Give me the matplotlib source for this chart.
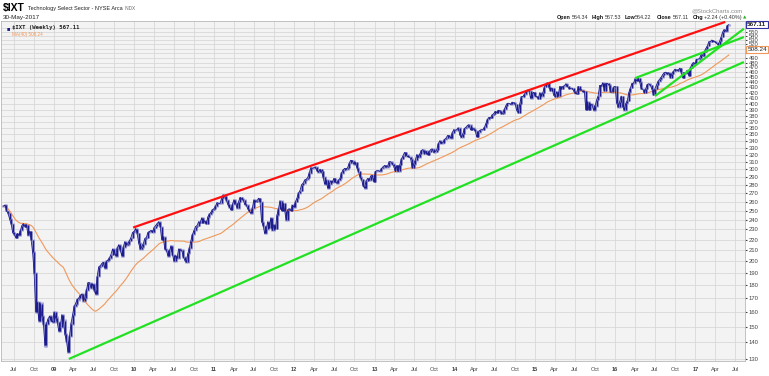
import numpy as np
import pandas as pd
import matplotlib
matplotlib.use('Agg')
import matplotlib.pyplot as plt
import matplotlib.transforms as mtransforms
from matplotlib.ticker import FixedLocator, NullLocator, FuncFormatter

plt.rcParams['font.family'] = ['Liberation Sans', 'DejaVu Sans']

# weekly closes of $IXT, one list per calendar year
c2008 = [255, 256, 250, 247, 241, 236, 227, 225, 222, 226, 224, 229, 234, 236, 233, 235,
         224, 228, 220, 208, 190, 160, 167, 154, 166, 157, 152, 138, 152, 155, 157, 154, 153]
c2009 = [160, 156, 153, 147, 150, 158, 154, 145, 141, 134, 144, 152, 158, 164, 166, 169,
         170, 172, 173, 168, 170, 176, 182, 182, 178, 181, 176, 173, 187, 195, 196, 198,
         199, 194, 200, 201, 203, 206, 211, 207, 205, 212, 215, 210, 205, 213, 218, 215,
         216, 219, 222, 227]
c2010 = [228, 231, 226, 217, 211, 213, 216, 221, 222, 227, 228, 229, 227, 232, 234, 236,
         238, 233, 220, 223, 211, 210, 205, 209, 214, 206, 200, 205, 203, 211, 210, 210,
         204, 201, 199, 207, 212, 219, 225, 229, 233, 234, 238, 237, 242, 237, 239, 236,
         243, 246, 248, 251, 252]
c2011 = [255, 259, 258, 258, 264, 268, 266, 262, 257, 254, 251, 257, 262, 259, 253, 260,
         265, 263, 262, 257, 256, 252, 249, 247, 253, 262, 260, 261, 264, 260, 238, 234,
         226, 230, 238, 232, 242, 229, 235, 231, 245, 252, 261, 250, 258, 250, 240, 251,
         252, 250, 256, 254]
c2012 = [260, 264, 270, 273, 280, 282, 286, 287, 289, 295, 302, 301, 302, 303, 298, 296,
         300, 297, 290, 281, 286, 276, 281, 285, 283, 288, 284, 282, 286, 288, 295, 299,
         301, 300, 302, 308, 312, 311, 307, 309, 302, 297, 290, 287, 279, 276, 285, 288,
         286, 291, 292, 284]
c2013 = [297, 298, 298, 297, 301, 303, 305, 303, 304, 310, 310, 307, 304, 297, 305, 297,
         306, 314, 318, 323, 320, 317, 317, 314, 302, 307, 312, 320, 316, 321, 326, 327,
         321, 325, 320, 324, 327, 328, 323, 324, 327, 336, 340, 336, 337, 342, 344, 348,
         347, 344, 352, 357]
c2014 = [356, 357, 360, 349, 345, 351, 359, 361, 364, 365, 357, 360, 358, 355, 346, 353,
         356, 357, 357, 361, 367, 374, 377, 376, 381, 383, 387, 385, 389, 388, 383, 384,
         391, 397, 401, 401, 399, 403, 402, 399, 389, 385, 400, 413, 413, 417, 423, 425,
         424, 410, 418, 421]
c2015 = [414, 413, 409, 420, 414, 420, 431, 436, 439, 430, 424, 429, 416, 413, 422, 414,
         432, 427, 432, 433, 437, 432, 428, 428, 429, 424, 419, 418, 432, 425, 426, 422,
         423, 390, 404, 390, 400, 398, 389, 396, 407, 414, 434, 433, 439, 424, 438, 438,
         435, 422, 421, 431]
c2016 = [432, 402, 394, 404, 414, 395, 389, 401, 406, 421, 429, 438, 438, 447, 443, 448,
         441, 428, 427, 420, 428, 436, 437, 434, 427, 416, 428, 435, 442, 446, 450, 455,
         459, 460, 456, 459, 449, 457, 462, 466, 464, 463, 468, 460, 449, 459, 458, 464,
         453, 469, 476, 480, 477]
c2017 = [487, 487, 489, 497, 495, 503, 510, 516, 526, 526, 530, 527, 526, 523, 519, 527,
         537, 549, 555, 551, 565, 567.11]

first_fridays = ['2008-05-16', '2009-01-02', '2010-01-01', '2011-01-07', '2012-01-06',
                 '2013-01-04', '2014-01-03', '2015-01-02', '2016-01-01', '2017-01-06']

# trend lines drawn on the chart: (start date, value, end date, value)
red_line = ('2009-12-28', 232, '2017-05-17', 574)
green_long = ('2009-03-10', 130, '2017-08-10', 481)
green_upper = ('2016-04-01', 448, '2017-08-10', 537)
green_lower = ('2016-07-01', 414, '2017-08-10', 557)

last_close = 567.11
ma_last = 508.24
# axis labels hidden under the two value boxes
hidden_yticks = [500, 510, 560]
quote_labels = ['Open', 'High', 'Low', 'Close', 'Chg']
quote_values = ['564.34', '567.53', '564.22', '567.11', '+2.24 (+0.40%)']


def main():
    dates = []
    closes = []
    for start, vals in zip(first_fridays, [c2008, c2009, c2010, c2011, c2012,
                                           c2013, c2014, c2015, c2016, c2017]):
        dates += list(pd.date_range(start, periods=len(vals), freq='W-FRI'))
        closes += vals
    dates = pd.DatetimeIndex(dates)
    closes = np.array(closes, dtype=float)
    opens = np.r_[closes[0], closes[:-1]]
    lo = np.minimum(opens, closes)
    hi = np.maximum(opens, closes)
    ma = pd.Series(closes).rolling(40, min_periods=1).mean()

    fig = plt.figure(figsize=(7.69, 3.76), dpi=100)
    ax = fig.add_axes([1 / 769, 15 / 376, 744 / 769, 340 / 376])
    ax.set_facecolor('#f3f3f3')

    # price bars
    ax.vlines(dates, lo - 0.8, hi + 0.8, color='#a0a0d4', lw=2.0, zorder=3)
    ax.vlines(dates, lo, hi, color='#1c1c8c', lw=1.0, zorder=4)
    ax.plot(dates, closes, color='#1c1c8c', lw=0.6, zorder=4)

    # 40 week moving average
    ax.plot(dates, ma, color='#f0985a', lw=0.8, zorder=3)

    # trend lines
    for (d0, v0, d1, v1), col in [(red_line, '#ff1010'), (green_long, '#22e022'),
                                  (green_upper, '#22e022'), (green_lower, '#22e022')]:
        ax.plot(pd.to_datetime([d0, d1]), [v0, v1], color=col, lw=1.6, zorder=5,
                solid_capstyle='butt')

    # axes
    ax.set_yscale('log')
    ax.set_ylim(128.86, 576.3)
    ax.set_xlim(pd.Timestamp('2008-05-05'), pd.Timestamp('2017-08-15'))
    yt = np.arange(130, 570, 10)
    ax.yaxis.set_major_locator(FixedLocator(yt))
    ax.yaxis.set_minor_locator(NullLocator())
    ax.yaxis.set_major_formatter(FuncFormatter(
        lambda v, p: '' if round(v) in hidden_yticks else f'{v:.0f}'))
    ax.yaxis.tick_right()

    xt = pd.date_range('2008-07-01', '2017-07-01', freq='QS-JAN')
    ax.set_xticks(xt)
    xlabels = [f'{d.year % 100:02d}' if d.month == 1 else d.strftime('%b') for d in xt]
    ax.set_xticklabels(xlabels)
    for lab, d in zip(ax.get_xticklabels(), xt):
        if d.month == 1:
            lab.set_fontweight('bold')

    ax.grid(True, color='#d8d8d8', lw=0.6, zorder=0)
    ax.set_axisbelow(True)
    ax.tick_params(axis='y', length=1.5, pad=1, labelsize=4.2, colors='#444444')
    ax.tick_params(axis='x', length=0, pad=4, labelsize=4.1, colors='#444444')
    for s in ax.spines.values():
        s.set_color('#b8b8b8')
        s.set_linewidth(0.6)

    # value boxes on the right axis
    trans = mtransforms.blended_transform_factory(ax.transAxes, ax.transData)
    ax.text(1.003, last_close, f'{last_close:.2f}', transform=trans, fontsize=4.6,
            fontweight='bold', va='center', ha='left', color='#222222', zorder=6,
            bbox=dict(boxstyle='square,pad=0.2', fc='white', ec='#3030a0', lw=0.8))
    ax.text(1.003, ma_last, f'{ma_last:.2f}', transform=trans, fontsize=4.6,
            va='center', ha='left', color='#222222', zorder=6,
            bbox=dict(boxstyle='square,pad=0.2', fc='white', ec='#f0985a', lw=0.8))

    # legend in the top-left corner
    ax.text(0.008, 0.985, '\u25a0', transform=ax.transAxes, fontsize=4, color='#1c1c8c',
            va='top', ha='left')
    ax.text(0.015, 0.988, '$IXT (Weekly) 567.11', transform=ax.transAxes, fontsize=4.1,
            family='DejaVu Sans Mono', fontweight='bold', va='top', ha='left', color='#222222')
    ax.text(0.015, 0.967, 'MA(40) 508.24', transform=ax.transAxes, fontsize=3.3,
            va='top', ha='left', color='#f0985a')

    # header
    def px(x, y):
        return x / 769, 1 - y / 376

    fig.text(*px(3, 8), '$IXT', fontsize=7.5, fontweight='bold', va='center', ha='left')
    fig.text(*px(28, 8.3), 'Technology Select Sector - NYSE Arca', fontsize=4.0,
             va='center', ha='left', color='#222222')
    fig.text(*px(125, 8.3), 'INDX', fontsize=3.3, va='center', ha='left', color='#666666')
    fig.text(*px(3, 17), '30-May-2017', fontsize=4.5, va='center', ha='left', color='#222222')
    fig.text(*px(743, 10.5), '@StockCharts.com', fontsize=4.2, va='center', ha='right',
             color='#888888')

    label_x = [557, 592, 625, 657, 693]
    value_x = [571.5, 604.5, 635, 673, 704]
    for lx, vx, name, val in zip(label_x, value_x, quote_labels, quote_values):
        fig.text(*px(lx, 17.3), name, fontsize=3.9, fontweight='bold',
                 va='center', ha='left', color='#111111')
        fig.text(*px(vx, 17.3), val, fontsize=3.9, va='center', ha='left', color='#333333')
    fig.text(*px(743, 17.3), '\u25b2', fontsize=3.2, va='center', ha='left',
             color='#22b022', family='DejaVu Sans')

    fig.savefig('out.png', dpi=100)


if __name__ == '__main__':
    main()
